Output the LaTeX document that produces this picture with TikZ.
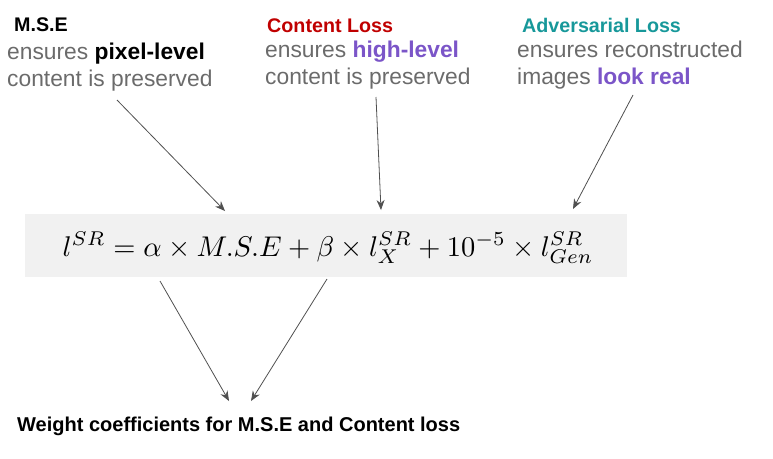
\documentclass[tikz,border=0pt]{standalone}
\usepackage{fontspec}
\setmainfont{Liberation Sans}
\definecolor{lossred}{HTML}{C00000}
\definecolor{advteal}{HTML}{17989A}
\definecolor{txtgray}{HTML}{6B6B6B}
\definecolor{hipurple}{HTML}{7B55C8}
\definecolor{boxgray}{HTML}{F1F1F1}
\definecolor{arrgray}{HTML}{505050}
\tikzset{
	head/.style={anchor=base west, inner sep=0pt, font=\fontsize{19.7}{22}\selectfont\bfseries},
	note/.style={anchor=north west, inner sep=0pt, align=left, text=txtgray,
		font=\fontsize{22.8}{27}\selectfont},
	pointer/.style={draw=arrgray, line width=0.8pt, -{Stealth[length=10pt,width=8pt]}}
}
\usetikzlibrary{arrows.meta}
\begin{document}
\begin{tikzpicture}[x=1pt, y=-1pt]
	\useasboundingbox (0,0) rectangle (773,458);

	% three losses
	\draw (14,31) node[head] (mse) {M.S.E};
	\draw (7,43) node[note] (msenote) {ensures \textbf{\color{black}pixel-level}\\content is preserved};
	\draw (267,32) node[head, lossred] (cont) {Content Loss};
	\draw (265,41) node[note] (contnote) {ensures \textbf{\color{hipurple}high-level}\\content is preserved};
	\draw (522,32) node[head, advteal] (adv) {Adversarial Loss};
	\draw (517,41) node[note] (advnote) {ensures reconstructed\\images \textbf{\color{hipurple}look real}};

	% the equation
	\fill[boxgray] (25,214) rectangle (627,277);
	\draw (328,248) node[font=\fontsize{10}{12}\selectfont, scale=2.85] (eq)
		{$l^{SR} = \alpha \times M.S.E + \beta \times l^{SR}_X + 10^{-5} \times l^{SR}_{Gen}$};

	\draw (17,431) node[anchor=base west, inner sep=0pt, font=\fontsize{20}{23}\selectfont\bfseries] (wt)
		{Weight coefficients for M.S.E and Content loss};

	% arrow ends
	\coordinate (m1) at (117,100);  \coordinate (m2) at (225,211);
	\coordinate (c1) at (376,97);   \coordinate (c2) at (381,210);
	\coordinate (a1) at (633,95);   \coordinate (a2) at (573,209);
	\coordinate (w1) at (160,281);  \coordinate (w2) at (229,401);
	\coordinate (w3) at (327,279);  \coordinate (w4) at (251,401);

	\draw[pointer] (m1) -- (m2);
	\draw[pointer] (c1) -- (c2);
	\draw[pointer] (a1) -- (a2);
	\draw[pointer] (w1) -- (w2);
	\draw[pointer] (w3) -- (w4);
\end{tikzpicture}
\end{document}
